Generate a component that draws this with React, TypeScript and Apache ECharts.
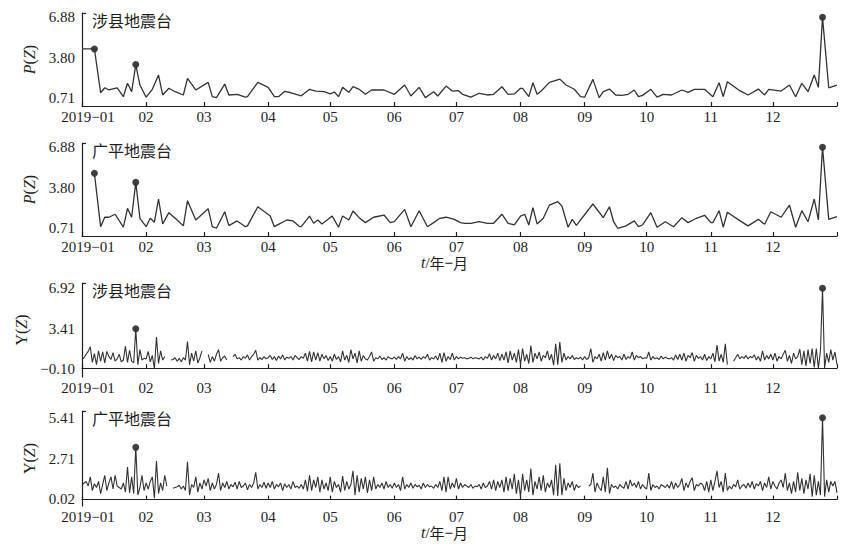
import React, { useEffect, useRef } from "react";
import * as echarts from "echarts";

// ---------- data ----------
const monthStarts = [0, 31, 59, 90, 120, 151, 181, 212, 243, 273, 304, 334];
const yearEnd = 365;
const xLabels = ["2019−01", "02", "03", "04", "05", "06", "07", "08", "09", "10", "11", "12"];

const pTicks = [0.71, 3.8, 6.88];
const ySheTicks = [-0.1, 3.41, 6.92];
const yGuangTicks = [0.02, 2.71, 5.41];

// P(Z), 涉县地震台: [day of year, value]
const pSheXian = [
  [0, 4.47], [6, 4.47], [9, 1.13], [11, 1.51], [13, 1.34], [17, 1.51], [20, 0.83], [22, 1.85], [24, 1.21], [26, 3.28],
  [28, 1.72], [31, 0.79], [34, 1.39], [37, 2.48], [39, 0.96], [42, 1.47], [45, 1.21], [49, 0.96], [51, 2.23], [55, 1.34],
  [61, 1.92], [63, 0.83], [65, 0.76], [69, 1.79], [71, 0.96], [75, 1.0], [79, 0.79], [80, 0.83], [85, 1.92], [90, 1.54],
  [93, 0.83], [95, 0.83], [98, 1.24], [101, 1.13], [106, 0.9], [110, 1.39], [113, 1.26], [117, 1.21], [120, 1.04], [122, 1.19],
  [124, 0.83], [126, 1.54], [129, 1.16], [131, 1.59], [134, 1.39], [137, 1.01], [140, 1.34], [146, 1.34], [151, 1.01], [156, 1.72],
  [159, 0.88], [163, 1.54], [166, 0.76], [170, 1.21], [172, 0.88], [176, 1.64], [179, 1.26], [182, 1.29], [184, 1.01], [188, 0.79],
  [192, 1.09], [196, 0.96], [199, 1.01], [203, 1.59], [206, 1.01], [209, 1.04], [212, 1.47], [213, 1.47], [216, 0.83], [218, 1.89],
  [220, 1.01], [222, 1.26], [226, 1.92], [231, 2.17], [234, 1.72], [238, 1.4], [241, 0.83], [243, 0.79], [247, 2.15], [250, 0.76],
  [252, 1.21], [255, 1.41], [258, 0.96], [261, 0.93], [264, 1.01], [267, 1.34], [269, 0.83], [271, 0.93], [275, 1.39], [278, 0.79],
  [281, 1.01], [285, 0.96], [290, 1.34], [293, 1.16], [296, 1.39], [301, 1.39], [305, 0.83], [308, 1.89], [310, 0.83], [312, 1.97],
  [318, 1.29], [322, 0.96], [327, 1.41], [330, 0.96], [332, 1.39], [338, 1.26], [342, 1.72], [345, 0.83], [348, 1.85], [351, 1.21],
  [354, 2.48], [356, 1.54], [358, 6.88], [361, 1.51], [365, 1.72],
];

// P(Z), 广平地震台
const pGuangPing = [
  [6, 4.9], [9, 0.83], [11, 1.55], [13, 1.55], [16, 1.78], [20, 0.79], [22, 2.23], [24, 1.55], [26, 4.21], [28, 1.47],
  [31, 0.83], [33, 1.47], [35, 1.17], [37, 2.94], [39, 1.04], [42, 1.9], [46, 1.34], [49, 0.89], [51, 2.81], [55, 1.34],
  [61, 2.2], [63, 0.83], [65, 0.71], [69, 1.97], [71, 0.91], [75, 1.27], [79, 0.83], [80, 0.89], [85, 2.35], [91, 1.64],
  [93, 0.83], [95, 1.01], [99, 1.34], [102, 1.27], [105, 0.86], [106, 0.83], [110, 1.64], [112, 1.09], [114, 1.34], [116, 1.04],
  [121, 1.64], [124, 0.79], [126, 1.64], [129, 1.34], [131, 2.03], [134, 1.52], [137, 1.14], [141, 1.55], [146, 1.72], [149, 1.14],
  [151, 1.21], [156, 2.15], [159, 0.83], [163, 2.05], [167, 0.83], [170, 1.14], [173, 1.47], [176, 1.55], [180, 1.39], [183, 1.14],
  [185, 1.09], [188, 1.09], [192, 1.21], [196, 1.09], [199, 1.09], [203, 1.78], [206, 1.09], [209, 0.96], [212, 1.64], [214, 1.78],
  [216, 0.96], [218, 2.28], [220, 1.04], [223, 1.47], [226, 2.48], [230, 2.74], [232, 2.41], [235, 0.79], [237, 1.39], [239, 0.93],
  [247, 2.56], [252, 1.52], [255, 2.35], [257, 1.21], [259, 0.71], [263, 0.89], [267, 1.27], [269, 0.83], [271, 0.96], [275, 1.9],
  [278, 0.79], [282, 1.21], [286, 0.83], [290, 1.52], [293, 1.14], [297, 1.47], [301, 1.7], [304, 1.14], [305, 1.14], [308, 2.05],
  [310, 0.79], [312, 1.93], [318, 1.29], [322, 0.89], [327, 1.39], [330, 1.01], [333, 1.97], [338, 1.55], [342, 2.48], [345, 0.79],
  [348, 2.05], [351, 1.21], [354, 2.94], [356, 1.34], [358, 6.88], [361, 1.39], [365, 1.6],
];

// Y(Z), 涉县地震台: daily values, one list per month (null = no data)
const ySheXian = [
  [0.75, 0.9, 1.2, 1.45, 1.85, 0.5, 1.25, 0.3, 1.5, 0.6, 1.4, 0.45, 1.45, 1.0, 0.75, 1.35, 0.6, 0.8, 1.2, 0.55, 0.7, 1.9, 0.5, 1.55, 0.6, 0.45, 3.41, 0.3, 1.6, 0.7, 0.85],
  [0.8, 1.45, 0.55, 1.1, -0.05, 2.7, 0.4, 1.5, 0.7, 1.0, null, null, 0.7, 0.75, 0.9, 0.6, 0.85, 0.55, 0.9, 0.7, 2.3, 0.3, 1.3, 0.6, 1.5, 0.45, 0.9, 1.5],
  [null, null, 1.2, 0.5, 1.0, 0.6, 1.2, 1.6, 0.6, 0.9, 1.05, 0.7, null, null, 1.0, 1.2, 0.8, 0.9, 0.7, 1.0, 0.85, 1.15, 0.7, 1.0, 1.2, 1.55, 0.7, 0.9, 0.75, 1.0, 0.8],
  [0.9, 1.1, 0.75, 1.0, 0.65, 1.05, 0.8, 1.15, 0.7, 0.95, 0.85, 1.0, 0.7, 1.1, 0.9, 0.75, 1.0, 0.85, 1.3, 0.6, 1.45, 0.55, 1.4, 0.7, 1.35, 0.6, 1.2, 0.8, 1.1, 0.65],
  [1.0, 0.6, 1.2, 0.75, 1.0, 0.55, 1.5, 0.7, 1.1, 0.5, 1.6, 0.8, 1.3, 0.45, 1.5, 0.6, 1.1, 0.8, 0.7, 1.0, 1.4, 0.6, 0.9, 0.8, 1.05, 0.75, 0.9, 0.7, 1.0, 0.85, 0.8],
  [0.95, 0.75, 1.0, 0.8, 1.3, 0.6, 1.0, 0.75, 0.9, 0.7, 1.1, 0.8, 0.95, 0.75, 1.0, 0.85, 1.2, 0.7, 0.9, 0.8, 1.05, 0.7, 1.3, 0.5, 1.35, 0.6, 1.0, 0.75, 1.3, 0.7],
  [1.0, 0.8, 0.95, 0.85, 0.9, 0.8, 0.85, 0.95, 0.8, 0.9, 0.85, 0.8, 0.95, 0.7, 1.0, 0.85, 1.25, 0.7, 1.1, 0.8, 1.3, 0.65, 1.2, 0.7, 1.4, 0.45, 1.5, 0.7, 1.3, 0.5, 1.6],
  [0.3, 1.7, 0.6, 1.2, 0.4, 1.95, 0.5, 1.3, 0.8, 1.4, 0.6, 1.1, 0.9, 1.5, 0.7, 1.2, 0.25, 2.1, 0.3, 2.25, 0.5, 1.3, 0.7, 1.0, 0.8, 1.1, 0.75, 0.9, 0.8, 0.95, 0.7],
  [1.0, 0.75, 0.9, 1.7, 0.5, 1.0, 0.8, 1.2, 0.6, 1.35, 0.7, 1.5, 0.8, 1.2, 0.65, 1.1, 0.9, 1.0, 0.7, 1.2, 0.75, 1.0, 0.85, 1.4, 0.7, 1.1, 0.9, 1.0, 0.8, 0.9],
  [0.85, 1.4, 0.7, 1.0, 0.8, 0.9, 0.75, 1.05, 0.8, 0.95, 0.85, 0.8, 0.9, 0.7, 1.15, 0.75, 1.2, 0.7, 1.3, 0.6, 1.1, 0.9, 1.35, 0.6, 1.1, 0.85, 1.0, 0.7, 1.2, 0.65, 1.0],
  [0.8, 1.3, 0.55, 2.0, 0.6, 1.2, 0.5, 2.1, 0.3, null, null, 0.6, 0.9, 1.2, 0.8, 1.0, 0.85, 1.1, 0.8, 1.0, 0.9, 1.15, 0.7, 1.0, 0.6, 1.5, 0.7, 1.1, 0.8, 1.2],
  [0.7, 1.3, 0.6, 1.0, 0.8, 1.2, 1.55, 0.6, 1.1, 0.4, 1.3, 0.8, 1.0, 1.65, 0.3, 1.5, 0.2, 1.6, 0.4, 1.7, 0.05, 1.7, 0.0, 1.5, 6.92, 0.0, 1.3, 0.5, 1.6, 0.7, 1.4, 0.3],
];

// Y(Z), 广平地震台
const yGuangPing = [
  [0.95, 1.1, 1.2, 0.9, 1.5, 0.6, 1.05, 0.8, 1.2, 0.4, 1.0, 1.6, 0.6, 1.1, 1.5, 0.7, 1.6, 0.9, 0.8, 0.7, 1.1, 0.5, 2.15, 0.45, 1.5, 0.4, 3.45, 0.3, 0.8, 1.6, 0.6],
  [1.1, 0.7, 1.2, 1.5, 0.1, 2.55, 0.4, 1.1, 0.6, 1.6, 0.9, null, null, 0.75, 0.8, 0.85, 0.95, 0.7, 0.9, 0.6, 2.5, 0.3, 1.0, 0.8, 1.5, 0.5, 1.1, 0.7],
  [1.3, 0.9, 1.4, 0.6, 1.1, 0.7, 1.0, 1.75, 0.6, 1.1, 0.8, 1.2, 0.7, 1.0, 0.85, 1.15, 0.7, 1.2, 0.8, 0.9, 1.1, 0.65, 1.0, 0.8, 1.1, 1.8, 0.7, 1.0, 0.8, 1.15, 0.75],
  [1.1, 0.8, 1.2, 0.7, 1.0, 0.85, 1.1, 0.6, 1.05, 0.8, 1.0, 0.7, 1.2, 0.8, 0.9, 0.75, 1.0, 0.7, 1.3, 0.55, 1.6, 0.6, 1.3, 0.8, 1.5, 0.5, 1.3, 0.7, 1.1, 0.6],
  [1.5, 0.5, 1.2, 0.8, 1.0, 0.5, 1.55, 0.6, 1.2, 0.7, 1.0, 1.9, 0.3, 1.6, 0.5, 1.4, 0.7, 1.5, 0.45, 1.3, 0.6, 1.5, 0.7, 1.0, 0.8, 1.1, 0.7, 1.2, 0.8, 1.0, 0.75],
  [1.1, 0.8, 1.0, 0.6, 1.5, 0.7, 1.0, 0.8, 1.1, 0.75, 1.0, 0.85, 0.95, 0.7, 1.1, 0.8, 1.0, 0.85, 0.9, 0.75, 1.0, 0.8, 1.2, 0.6, 1.5, 0.5, 1.5, 0.7, 1.1, 0.8],
  [1.4, 0.7, 1.1, 0.8, 1.0, 0.9, 0.8, 1.0, 0.75, 0.9, 0.85, 1.0, 0.7, 1.1, 0.8, 0.9, 1.2, 0.7, 1.3, 0.6, 1.2, 0.8, 1.3, 0.5, 1.5, 0.6, 1.4, 0.7, 1.7, 0.4, 1.3],
  [0.2, 1.7, 0.6, 1.3, 0.5, 2.05, 0.3, 1.2, 0.7, 1.5, 0.6, 1.6, 0.5, 1.1, 0.8, 1.3, 0.3, 2.3, 0.25, 2.4, 0.3, 1.4, 0.6, 1.1, 0.8, 1.2, 0.6, 1.0, 0.8, 0.9, null],
  [null, null, 0.9, 1.0, 1.75, 0.5, 1.1, 0.8, 0.6, 1.5, 0.5, 2.1, 0.4, 1.0, 0.8, 0.9, 0.7, 1.0, 0.85, 0.75, 1.2, 0.7, 1.3, 0.9, 1.1, 0.8, 1.2, 0.7, 1.0, 0.8],
  [0.7, 1.75, 0.6, 1.0, 0.8, 0.9, 0.7, 1.0, 0.9, 0.8, 1.0, 0.75, 1.2, 0.7, 1.1, 0.8, 1.0, 1.4, 0.6, 1.1, 0.8, 1.2, 1.45, 0.6, 1.0, 0.9, 1.1, 1.0, 0.6, 1.2, 0.5],
  [1.3, 0.6, 1.2, 1.9, 0.8, 1.2, 0.5, 1.75, 0.6, 0.9, 0.7, 1.0, 0.85, 1.3, 0.7, 0.9, 1.0, 0.75, 1.1, 0.8, 1.2, 0.7, 1.05, 0.9, 1.2, 0.6, 1.1, 0.8, 1.5, 0.7],
  [1.2, 0.9, 0.7, 1.1, 1.3, 0.8, 1.75, 0.6, 1.1, 0.4, 1.2, 0.5, 1.8, 0.6, 1.4, 0.4, 1.3, 0.7, 1.7, 0.2, 1.6, 0.3, 1.2, 0.3, 5.41, 0.2, 1.3, 0.5, 1.2, 0.9, 1.2, 0.45],
];

const pMarkDays = [6, 26, 358];
const yMarkDays = [26, 358];

// ---------- helpers ----------
const SERIF = '"Liberation Serif", "Times New Roman", serif';
const CJK = '"Noto Sans CJK SC", sans-serif';
const INK = "#1e1e1e";

function dailyPairs(months: (number | null)[][]) {
  return months.flatMap((m, mi) => m.map((v, j) => [monthStarts[mi] + j, v == null ? "-" : v]));
}
function marks(pairs: any[], days: number[]) {
  return pairs.filter((p) => days.includes(p[0]) && p[1] !== "-");
}
const fmt = (v: number) => v.toFixed(2).replace("-", "−");

export default function App() {
  const ref = useRef<HTMLDivElement>(null);
  useEffect(() => {
    document.body.style.margin = "0";
    const chart = echarts.init(ref.current!, null, { renderer: "svg" });

    const panels = [
      { title: "涉县地震台", top: 13, height: 93, min: 0.12, max: 7.21, ticks: pTicks, name: "{i|P}({i|Z})", data: pSheXian, mk: pMarkDays, xName: false },
      { title: "广平地震台", top: 143, height: 93, min: 0.12, max: 7.21, ticks: pTicks, name: "{i|P}({i|Z})", data: pGuangPing, mk: pMarkDays, xName: true },
      { title: "涉县地震台", top: 283, height: 94, min: -0.77, max: 7.38, ticks: ySheTicks, name: "Y({i|Z})", data: dailyPairs(ySheXian), mk: yMarkDays, xName: false },
      { title: "广平地震台", top: 411, height: 95, min: -0.42, max: 5.85, ticks: yGuangTicks, name: "Y({i|Z})", data: dailyPairs(yGuangPing), mk: yMarkDays, xName: true },
    ];

    const axisLine = { lineStyle: { color: INK, width: 1.2 } };

    chart.setOption({
      animation: false,
      title: panels.map((p) => ({
        text: p.title,
        left: 92,
        top: p.top - 1,
        padding: 0,
        textStyle: { fontFamily: CJK, fontSize: 16, fontWeight: "normal", color: INK },
      })),
      grid: panels.map((p) => ({ left: 82, right: 19, top: p.top, height: p.height })),
      xAxis: panels.map((p, i) => ({
        type: "value",
        gridIndex: i,
        min: 0,
        max: yearEnd,
        splitLine: { show: false },
        axisLine,
        axisTick: { inside: true, length: 4, customValues: [...monthStarts, yearEnd], lineStyle: { color: INK, width: 1.2 } },
        axisLabel: {
          customValues: monthStarts,
          margin: 3,
          fontFamily: SERIF,
          fontSize: 15,
          color: INK,
          formatter: (v: number) => {
            const k = monthStarts.indexOf(Math.round(v));
            if (k === 0) return "{f|" + xLabels[0] + "}";
            return k >= 0 ? xLabels[k] : "";
          },
          rich: { f: { fontFamily: SERIF, fontSize: 15, color: INK, padding: [0, 0, 0, 12] } },
        },
        name: p.xName ? "{i|t}/{c|年}{d|−}{c|月}" : "",
        nameLocation: "middle",
        nameGap: 18,
        nameTextStyle: {
          fontFamily: SERIF,
          fontSize: 15,
          color: INK,
          padding: [0, 30, 0, 0],
          rich: {
            i: { fontFamily: SERIF, fontStyle: "italic", fontSize: 16, color: INK },
            c: { fontFamily: CJK, fontSize: 15, color: INK },
            d: { fontFamily: SERIF, fontSize: 15, fontWeight: "bold", color: INK },
          },
        },
      })),
      yAxis: panels.map((p, i) => ({
        type: "value",
        gridIndex: i,
        min: p.min,
        max: p.max,
        splitLine: { show: false },
        axisLine,
        axisTick: { show: true, inside: true, length: 4, customValues: [p.max], lineStyle: { color: INK, width: 1.2 } },
        axisLabel: { customValues: p.ticks, margin: 7, fontFamily: SERIF, fontSize: 15, color: INK, formatter: fmt },
        name: p.name,
        nameLocation: "middle",
        nameRotate: 90,
        nameGap: 44,
        nameTextStyle: {
          fontFamily: SERIF,
          fontSize: 16,
          color: INK,
          rich: { i: { fontFamily: SERIF, fontStyle: "italic", fontSize: 16, color: INK } },
        },
      })),
      series: panels.flatMap((p, i) => [
        {
          type: "line",
          xAxisIndex: i,
          yAxisIndex: i,
          data: p.data,
          showSymbol: false,
          connectNulls: false,
          lineStyle: { color: "#333", width: i < 2 ? 1.3 : 1.1 },
          silent: true,
        },
        {
          type: "scatter",
          xAxisIndex: i,
          yAxisIndex: i,
          data: marks(p.data, p.mk),
          symbol: "circle",
          symbolSize: 7,
          itemStyle: { color: "#111" },
          silent: true,
        },
      ]),
    });
    return () => chart.dispose();
  }, []);
  return <div ref={ref} style={{ width: 856, height: 546 }} />;
}
